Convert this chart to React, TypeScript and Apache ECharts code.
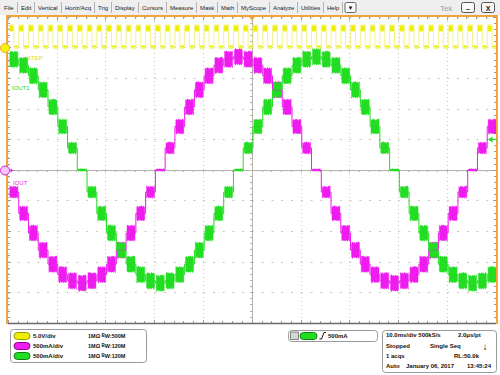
import React, { useEffect, useRef } from "react";
import * as echarts from "echarts";

// ---------- data ----------
// Time base: 10 ms/div, trigger at centre (0 ms). Each DAC staircase step lasts 2 ms.
const STEP_MS = 2;
const FIRST_STEP_MS = -49.8;

// C2 (magenta, "IOUT") staircase levels, amps, one per 2 ms step
const ioutA = [
  -0.36, -0.71, -1.03, -1.31, -1.54, -1.71, -1.81, -1.85, -1.81, -1.71,
  -1.54, -1.31, -1.03, -0.71, -0.36, 0, 0.36, 0.71, 1.03, 1.31,
  1.54, 1.71, 1.81, 1.85, 1.81, 1.71, 1.54, 1.31, 1.03, 0.71,
  0.36, 0, -0.36, -0.71, -1.03, -1.31, -1.54, -1.71, -1.81, -1.85,
  -1.81, -1.71, -1.54, -1.31, -1.03, -0.71, -0.36, 0, 0.36, 0.71,
];

// C4 (green, "IOUT1") staircase levels, amps
const iout1A = [
  1.81, 1.71, 1.54, 1.31, 1.03, 0.71, 0.36, 0, -0.36, -0.71,
  -1.03, -1.31, -1.54, -1.71, -1.81, -1.85, -1.81, -1.71, -1.54, -1.31,
  -1.03, -0.71, -0.36, 0, 0.36, 0.71, 1.03, 1.31, 1.54, 1.71,
  1.81, 1.85, 1.81, 1.71, 1.54, 1.31, 1.03, 0.71, 0.36, 0,
  -0.36, -0.71, -1.03, -1.31, -1.54, -1.71, -1.81, -1.85, -1.81, -1.71,
];

// C1 (yellow, "STEP") clock: high level of each pulse (volts), low level 0 V
const stepHighV = [
  3.6, 3.6, 3.6, 3.6, 3.6, 3.6, 3.6, 3.6, 3.6, 3.6,
  3.6, 3.6, 3.6, 3.6, 3.6, 3.6, 3.6, 3.6, 3.6, 3.6,
  3.6, 3.6, 3.6, 3.6, 3.6, 3.6, 3.6, 3.6, 3.6, 3.6,
  3.6, 3.6, 3.6, 3.6, 3.6, 3.6, 3.6, 3.6, 3.6, 3.6,
  3.6, 3.6, 3.6, 3.6, 3.6, 3.6, 3.6, 3.6, 3.6, 3.6,
];
const STEP_LOW_V = 0;

// vertical settings
const C1_V_PER_DIV = 5;
const C1_OFFSET_DIV = 4;
const C2_A_PER_DIV = 0.5;
const C4_A_PER_DIV = 0.5;
const TRIG_LEVEL_A = 0.5;

const menuItems = ["File", "Edit", "Vertical", "Horiz/Acq", "Trig", "Display", "Cursors", "Measure", "Mask", "Math", "MyScope", "Analyze", "Utilities", "Help"];
const chanPills = ["C1", "C2", "C4"];
const chanScales = ["5.0V/div", "500mA/div", "500mA/div"];
const chanImpedance = ["1MΩ", "1MΩ", "1MΩ"];
const chanBandwidth = ["500M", "120M", "120M"];
const trigText = "500mA";
const acqLines = [
  ["10.0ms/div 500kS/s", "2.0μs/pt"],
  ["Stopped", "Single Seq"],
  ["1 acqs", "RL:50.0k"],
  ["Auto", "January 06, 2017", "13:45:24"],
];

// ---------- styling ----------
const YEL = "#eeee00";
const YEL_PALE = "#f3f38c";
const MAG = "#ee1cee";
const GRN = "#22dd22";
const ORANGE = "#f2a43a";
const FONT = '"Liberation Sans", Arial, sans-serif';
// fixed texture for the ragged edge of the noise band (pixels)
const JAG = [0, 1.4, 0.5, 1.9, 0.3, 1.1, 0.8, 1.7, 0.2, 1.3, 0.6, 2.0, 0.4, 0.9];

const GRID = { left: 8, top: 17, width: 488, height: 306 };

function measure(text: string, font: string): number {
  const c = document.createElement("canvas").getContext("2d");
  if (!c) return text.length * 3.2;
  c.font = font;
  return c.measureText(text).width;
}

function txt(x: number, y: number, text: string, o: any = {}) {
  return {
    type: "text",
    x,
    y,
    silent: true,
    z: 100,
    style: {
      text,
      fill: o.fill || "#111",
      fontSize: o.fontSize || 6,
      fontFamily: FONT,
      fontWeight: o.fontWeight || "normal",
      align: o.align || "left",
      verticalAlign: "middle",
      textAlign: o.align || "left",
      textVerticalAlign: "middle",
      rich: o.rich,
    },
  };
}

function stepLine(levels: number[], toDiv: (v: number) => number, color: string) {
  const pts: number[][] = levels.map((v, k) => [FIRST_STEP_MS + k * STEP_MS, toDiv(v)]);
  pts.push([FIRST_STEP_MS + levels.length * STEP_MS, toDiv(levels[levels.length - 1])]);
  return {
    type: "line",
    step: "end",
    data: pts,
    symbol: "none",
    silent: true,
    animation: false,
    lineStyle: { color, width: 1 },
    xAxisIndex: 0,
    yAxisIndex: 0,
  };
}

function blockSeries(levels: number[], aPerDiv: number, color: string, seed: number) {
  const data = levels.map((a, k) => [FIRST_STEP_MS + k * STEP_MS, FIRST_STEP_MS + (k + 1) * STEP_MS, a / aPerDiv]);
  return {
    type: "custom",
    silent: true,
    clip: true,
    xAxisIndex: 0,
    yAxisIndex: 0,
    data,
    encode: { x: [0, 1], y: 2 },
    renderItem: (p: any, api: any) => {
      const d = api.value(2);
      const half = 0.04 + 0.24 * (1 - Math.exp(-Math.abs(d) / 0.6));
      const a = api.coord([api.value(0), d + half]);
      const b = api.coord([api.value(1), d - half]);
      const x0 = a[0] + 0.9;
      const x1 = b[0] - 0.2;
      const amp = Math.min(1, (b[1] - a[1]) / 10);
      const top: number[][] = [];
      const bot: number[][] = [];
      let i = 0;
      for (let x = x0; x <= x1 + 0.01; x += 1, i++) {
        const j1 = JAG[(i + p.dataIndex * 5 + seed) % JAG.length] * amp;
        const j2 = JAG[(i * 3 + p.dataIndex * 7 + seed + 4) % JAG.length] * amp;
        top.push([Math.min(x, x1), a[1] + j1]);
        bot.push([Math.min(x, x1), b[1] - j2]);
      }
      const pts = top.concat(bot.reverse());
      return {
        type: "polygon",
        shape: { points: pts },
        style: { fill: color, stroke: color, lineWidth: 0.4 },
      };
    },
  };
}

function buildOption(): any {
  const c1Div = (v: number) => C1_OFFSET_DIV + v / C1_V_PER_DIV;

  // yellow square wave
  const yPts: number[][] = [];
  stepHighV.forEach((v, k) => {
    const t = FIRST_STEP_MS + k * STEP_MS;
    yPts.push([t, c1Div(v)]);
    yPts.push([t + STEP_MS / 2, c1Div(STEP_LOW_V)]);
  });
  yPts.push([FIRST_STEP_MS + stepHighV.length * STEP_MS, c1Div(stepHighV[0])]);
  const yBlobData = stepHighV.map((v, k) => {
    const t = FIRST_STEP_MS + k * STEP_MS;
    return [t, t + STEP_MS / 2, t + STEP_MS, c1Div(v), c1Div(STEP_LOW_V)];
  });

  const gridDotH = { color: "#cbc7bd", width: 1, type: [2, 7.76] as any };
  const gridDotV = { color: "#cbc7bd", width: 1, type: [1, 3] as any };
  const crossCol = "#b4b2aa";
  const edgeTick = { color: "#9c9c9c", width: 1 };

  const g: any[] = [];
  // menu bar
  g.push({ type: "rect", shape: { x: 0, y: 0, width: 500, height: 15 }, style: { fill: "#efefef" }, silent: true, z: 90 });
  const menuFont = `6px ${FONT}`;
  let mx = 4;
  menuItems.forEach((m) => {
    g.push(txt(mx, 8, m, { fill: "#222" }));
    const w = measure(m, menuFont);
    const sx = Math.round(mx + w + 3) + 0.5;
    g.push({ type: "line", shape: { x1: sx, y1: 2, x2: sx, y2: 13 }, style: { stroke: "#b4b4b4", lineWidth: 1 }, silent: true, z: 100 });
    mx = sx + 3.5;
  });
  g.push({ type: "rect", shape: { x: mx - 1, y: 2.5, width: 11, height: 10, r: 1.5 }, style: { fill: "#fafafa", stroke: "#666", lineWidth: 1 }, silent: true, z: 100 });
  g.push(txt(mx + 4.5, 8, "▼", { align: "center", fontSize: 6, fill: "#111" }));
  g.push(txt(440, 8, "Tek", { fontSize: 8, fill: "#a0a0a0" }));
  g.push({ type: "rect", shape: { x: 461.5, y: 2.5, width: 13, height: 10, r: 2 }, style: { fill: "#fafafa", stroke: "#555", lineWidth: 1 }, silent: true, z: 100 });
  g.push(txt(468, 8, "–", { align: "center", fontSize: 7, fontWeight: "bold" }));
  g.push({ type: "rect", shape: { x: 481.5, y: 2.5, width: 13, height: 10, r: 2 }, style: { fill: "#fafafa", stroke: "#555", lineWidth: 1 }, silent: true, z: 100 });
  g.push(txt(488, 8, "X", { align: "center", fontSize: 7, fontWeight: "bold" }));

  // plot frame
  g.push({ type: "line", shape: { x1: 7, y1: 15, x2: 7, y2: 324 }, style: { stroke: ORANGE, lineWidth: 2 }, silent: true, z: 95 });
  g.push({ type: "line", shape: { x1: 6, y1: 16, x2: 498, y2: 16 }, style: { stroke: ORANGE, lineWidth: 2 }, silent: true, z: 95 });
  g.push({ type: "line", shape: { x1: 497, y1: 15, x2: 497, y2: 324 }, style: { stroke: ORANGE, lineWidth: 2 }, silent: true, z: 95 });
  g.push({ type: "line", shape: { x1: 8, y1: 323.5, x2: 496, y2: 323.5 }, style: { stroke: "#6a6a6a", lineWidth: 1.5 }, silent: true, z: 95 });

  // trigger position marker (top centre) and level marker (right)
  g.push({ type: "polygon", shape: { points: [[248.5, 16], [255.5, 16], [252, 21]] }, style: { fill: ORANGE }, silent: true, z: 100 });
  const trigY = GRID.top + GRID.height / 2 - (TRIG_LEVEL_A / C4_A_PER_DIV) * (GRID.height / 10);
  g.push({ type: "polygon", shape: { points: [[488, trigY], [492.5, trigY - 3], [492.5, trigY + 3]] }, style: { fill: GRN }, silent: true, z: 100 });
  g.push({ type: "line", shape: { x1: 492, y1: trigY, x2: 497, y2: trigY }, style: { stroke: GRN, lineWidth: 1 }, silent: true, z: 100 });

  // channel markers
  g.push({ type: "circle", shape: { cx: 5, cy: 48, r: 4.5 }, style: { fill: "#f4f400", stroke: ORANGE, lineWidth: 1 }, silent: true, z: 101 });
  g.push(txt(5, 48.3, "1", { align: "center", fontSize: 6, fontWeight: "bold" }));
  g.push({ type: "circle", shape: { cx: 5, cy: 170.5, r: 4.5 }, style: { fill: "#f7c6f7", stroke: "#d21cd2", lineWidth: 1 }, silent: true, z: 101 });
  g.push(txt(5, 170.8, "2", { align: "center", fontSize: 6, fontWeight: "bold", fill: "#b000b0" }));
  g.push({ type: "polygon", shape: { points: [[10.5, 168.5], [13.5, 170.5], [10.5, 172.5]] }, style: { fill: MAG }, silent: true, z: 101 });

  // trace labels
  g.push(txt(27, 58, "STEP", { fill: "#e2e200", fontSize: 6 }));
  g.push(txt(12, 88, "IOUT1", { fill: GRN, fontSize: 6 }));
  g.push(txt(13, 183, "IOUT", { fill: MAG, fontSize: 6 }));

  // channel box
  g.push({ type: "rect", shape: { x: 10.5, y: 329.5, width: 136, height: 33, r: 3 }, style: { fill: "#fff", stroke: "#9a9a9a", lineWidth: 1 }, silent: true, z: 100 });
  const pillFill = [YEL, MAG, GRN];
  const pillStroke = ["#9a9a00", "#900090", "#108010"];
  const pillText = ["#6a6a00", "#ffd0ff", "#064006"];
  const bwRich = {
    s: { fontSize: 4.5, fontFamily: FONT, fontWeight: "bold", fill: "#111", verticalAlign: "top" },
    w: { fontSize: 5.5, fontFamily: FONT, fontWeight: "bold", fill: "#111" },
  };
  chanPills.forEach((p, i) => {
    const ry = 336 + i * 10;
    g.push({ type: "rect", shape: { x: 14, y: ry - 3.5, width: 16, height: 7, r: 3.5 }, style: { fill: pillFill[i], stroke: pillStroke[i], lineWidth: 1 }, silent: true, z: 101 });
    g.push(txt(22, ry + 0.3, p, { align: "center", fontSize: 5, fontWeight: "bold", fill: pillText[i] }));
    g.push(txt(33, ry, chanScales[i], { fontWeight: "bold" }));
    g.push(txt(88, ry, chanImpedance[i], { fontWeight: "bold", fontSize: 5.5 }));
    g.push(txt(101.5, ry, `{s|B}{w|W:${chanBandwidth[i]}}`, { fontWeight: "bold", fontSize: 5.5, rich: bwRich }));
  });

  // trigger box
  g.push({ type: "rect", shape: { x: 288.5, y: 330.5, width: 89, height: 11, r: 3 }, style: { fill: "#fff", stroke: "#9a9a9a", lineWidth: 1 }, silent: true, z: 100 });
  g.push({ type: "rect", shape: { x: 290.5, y: 332, width: 8, height: 7.5 }, style: { fill: "#d6d6d6", stroke: "#666", lineWidth: 0.8 }, silent: true, z: 101 });
  g.push(txt(294.5, 336, "A'", { align: "center", fontSize: 5.5, fontWeight: "bold" }));
  g.push({ type: "rect", shape: { x: 300, y: 332.5, width: 17, height: 7, r: 3.5 }, style: { fill: GRN, stroke: "#108010", lineWidth: 1 }, silent: true, z: 101 });
  g.push(txt(308.5, 336.3, "C4", { align: "center", fontSize: 5, fontWeight: "bold", fill: "#064006" }));
  g.push({ type: "polyline", shape: { points: [[319.5, 339], [321.5, 339], [324, 332.5], [326, 332.5]] }, style: { stroke: "#111", lineWidth: 1, fill: null }, silent: true, z: 101 });
  g.push(txt(328, 336, trigText, { fontWeight: "bold" }));

  // acquisition box
  g.push({ type: "rect", shape: { x: 382.5, y: 330.5, width: 114, height: 42, r: 3 }, style: { fill: "#fff", stroke: "#9a9a9a", lineWidth: 1 }, silent: true, z: 100 });
  g.push(txt(386, 335, acqLines[0][0], { fontWeight: "bold" }));
  g.push(txt(458, 335, acqLines[0][1], { fontWeight: "bold" }));
  g.push(txt(386, 346, acqLines[1][0], { fontWeight: "bold" }));
  g.push(txt(430, 346, acqLines[1][1], { fontWeight: "bold" }));
  g.push(txt(485, 346, "↓", { align: "center", fontWeight: "bold", fontSize: 10 }));
  g.push(txt(386, 356, acqLines[2][0], { fontWeight: "bold" }));
  g.push(txt(454, 356, acqLines[2][1], { fontWeight: "bold" }));
  g.push(txt(386, 366, acqLines[3][0], { fontWeight: "bold" }));
  g.push(txt(406, 366, acqLines[3][1], { fontWeight: "bold" }));
  g.push(txt(467, 366, acqLines[3][2], { fontWeight: "bold" }));

  const hiddenLabel = { show: false };

  return {
    animation: false,
    backgroundColor: "#ffffff",
    grid: { ...GRID, containLabel: false },
    xAxis: [
      {
        type: "value", min: -50, max: 50, interval: 10,
        axisLine: { show: true, onZero: true, lineStyle: { color: crossCol, width: 1 } },
        axisTick: { show: true, length: 2, lineStyle: { color: crossCol } },
        minorTick: { show: true, splitNumber: 5, length: 2, lineStyle: { color: crossCol } },
        axisLabel: hiddenLabel,
        splitLine: { show: true, lineStyle: gridDotV },
      },
      {
        type: "value", position: "top", min: -50, max: 50, interval: 10,
        axisLine: { show: false, onZero: false },
        axisTick: { show: true, inside: true, length: 3, lineStyle: edgeTick },
        minorTick: { show: true, splitNumber: 5, length: 2, lineStyle: edgeTick },
        axisLabel: hiddenLabel, splitLine: { show: false },
      },
      {
        type: "value", position: "bottom", min: -50, max: 50, interval: 10,
        axisLine: { show: false, onZero: false },
        axisTick: { show: true, inside: true, length: 3, lineStyle: edgeTick },
        minorTick: { show: true, splitNumber: 5, length: 2, lineStyle: edgeTick },
        axisLabel: hiddenLabel, splitLine: { show: false },
      },
    ],
    yAxis: [
      {
        type: "value", min: -5, max: 5, interval: 1,
        axisLine: { show: true, onZero: true, lineStyle: { color: crossCol, width: 1 } },
        axisTick: { show: true, length: 2, lineStyle: { color: crossCol } },
        minorTick: { show: true, splitNumber: 5, length: 2, lineStyle: { color: crossCol } },
        axisLabel: hiddenLabel,
        splitLine: { show: true, lineStyle: gridDotH },
      },
      {
        type: "value", position: "left", min: -5, max: 5, interval: 1,
        axisLine: { show: false, onZero: false },
        axisTick: { show: true, inside: true, length: 3, lineStyle: edgeTick },
        minorTick: { show: true, splitNumber: 5, length: 2, lineStyle: edgeTick },
        axisLabel: hiddenLabel, splitLine: { show: false },
      },
      {
        type: "value", position: "right", min: -5, max: 5, interval: 1,
        axisLine: { show: false, onZero: false },
        axisTick: { show: true, inside: true, length: 3, lineStyle: edgeTick },
        minorTick: { show: true, splitNumber: 5, length: 2, lineStyle: edgeTick },
        axisLabel: hiddenLabel, splitLine: { show: false },
      },
    ],
    series: [
      { type: "line", data: yPts, symbol: "none", silent: true, lineStyle: { color: YEL_PALE, width: 1 }, xAxisIndex: 0, yAxisIndex: 0, step: "end" },
      {
        type: "custom", silent: true, clip: true, xAxisIndex: 0, yAxisIndex: 0, data: yBlobData,
        encode: { x: [0, 2], y: [3, 4] },
        renderItem: (_p: any, api: any) => {
          const hi = api.value(3), lo = api.value(4);
          const a = api.coord([api.value(0), hi + 0.03]);
          const b = api.coord([api.value(1), hi - 0.19]);
          const c = api.coord([api.value(1), lo + 0.07]);
          const d = api.coord([api.value(2), lo - 0.03]);
          return {
            type: "group",
            children: [
              { type: "rect", shape: { x: a[0] + 0.3, y: a[1], width: b[0] - a[0] - 0.3, height: b[1] - a[1] }, style: { fill: YEL } },
              { type: "rect", shape: { x: c[0] + 0.5, y: c[1], width: d[0] - c[0] - 0.8, height: d[1] - c[1] }, style: { fill: YEL } },
            ],
          };
        },
      },
      stepLine(ioutA, (v) => v / C2_A_PER_DIV, MAG),
      blockSeries(ioutA, C2_A_PER_DIV, MAG, 0),
      stepLine(iout1A, (v) => v / C4_A_PER_DIV, GRN),
      blockSeries(iout1A, C4_A_PER_DIV, GRN, 3),
    ],
    graphic: { elements: g },
  };
}

export default function App() {
  const ref = useRef<HTMLDivElement>(null);
  useEffect(() => {
    document.body.style.margin = "0";
    const chart = echarts.init(ref.current as HTMLDivElement, null, { renderer: "svg" });
    chart.setOption(buildOption());
    return () => chart.dispose();
  }, []);
  return <div ref={ref} style={{ width: 500, height: 375, background: "#fff" }} />;
}
